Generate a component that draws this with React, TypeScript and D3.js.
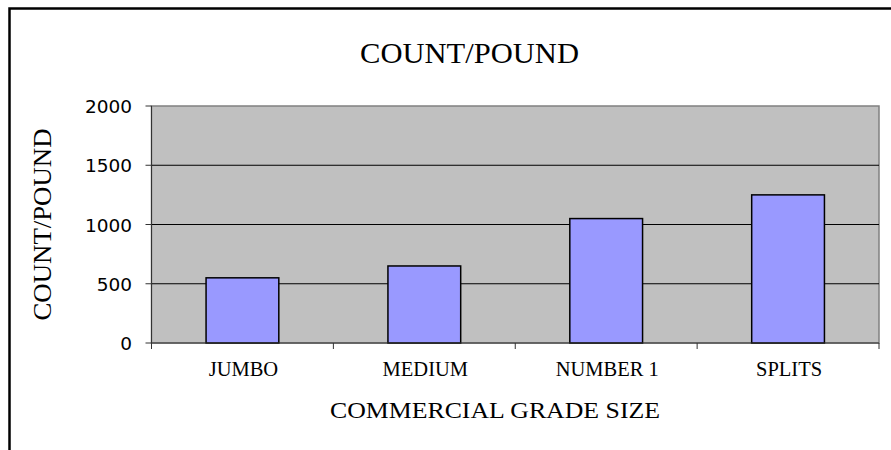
import React from "react";
import * as d3 from "d3";

const categories = ["JUMBO", "MEDIUM", "NUMBER 1", "SPLITS"];
const values = [550, 650, 1050, 1250];
const yTicks = [0, 500, 1000, 1500, 2000];
const chartTitle = "COUNT/POUND";
const yTitle = "COUNT/POUND";
const xTitle = "COMMERCIAL GRADE SIZE";

const W = 891;
const H = 450;
const plot = { left: 151.5, top: 106, right: 879, bottom: 343 };
const FONT = "'Liberation Serif', 'DejaVu Serif', serif";
const NUMFONT = "'DejaVu Sans', sans-serif";

export default function App() {
  const x = d3
    .scaleBand<string>()
    .domain(categories)
    .range([plot.left, plot.right])
    .paddingInner(0.6)
    .paddingOuter(0.3);
  const band = d3.scaleBand<string>().domain(categories).range([plot.left, plot.right]);
  const y = d3.scaleLinear().domain([0, 2000]).range([plot.bottom, plot.top]);
  const boundaries = categories.map((c) => band(c)!).concat([plot.right]);

  return (
    <svg
      width={W}
      height={H}
      style={{ position: "absolute", left: 0, top: 0, background: "#fff" }}
    >
      <rect x={9.5} y={8.5} width={1000} height={1000} fill="#fff" stroke="#000" strokeWidth={2.5} />
      <text
        x={469.5}
        y={63}
        textAnchor="middle"
        fontFamily={FONT}
        fontSize={29}
        textLength={219}
        lengthAdjust="spacingAndGlyphs"
        fill="#000"
      >
        {chartTitle}
      </text>
      <rect
        x={plot.left}
        y={plot.top}
        width={plot.right - plot.left}
        height={plot.bottom - plot.top}
        fill="#C0C0C0"
        stroke="#808080"
        strokeWidth={1.5}
      />
      {yTicks.filter((t) => t > 0 && t < 2000).map((t) => (
        <line key={"g" + t} x1={plot.left} x2={plot.right} y1={y(t)} y2={y(t)} stroke="#000" strokeWidth={1} />
      ))}
      {categories.map((c, i) => (
        <rect
          key={c}
          x={x(c)!}
          y={y(values[i])}
          width={x.bandwidth()}
          height={y(0) - y(values[i])}
          fill="#9999FF"
          stroke="#000"
          strokeWidth={1.5}
        />
      ))}
      <line x1={plot.left} x2={plot.left} y1={plot.top} y2={plot.bottom} stroke="#333" strokeWidth={1} />
      <line x1={plot.left} x2={plot.right} y1={plot.bottom} y2={plot.bottom} stroke="#333" strokeWidth={1} />
      {yTicks.map((t) => (
        <g key={"t" + t}>
          <line x1={plot.left - 6} x2={plot.left} y1={y(t)} y2={y(t)} stroke="#333" strokeWidth={1} />
          <text x={132} y={y(t) + 7} textAnchor="end" fontFamily={NUMFONT} fontSize={18.5} fill="#000">
            {t}
          </text>
        </g>
      ))}
      {boundaries.map((b, i) => (
        <line key={"b" + i} x1={b} x2={b} y1={plot.bottom} y2={plot.bottom + 6} stroke="#333" strokeWidth={1} />
      ))}
      {categories.map((c) => (
        <text
          key={"l" + c}
          x={x(c)! + x.bandwidth() / 2 + 1}
          y={376}
          textAnchor="middle"
          fontFamily={FONT}
          fontSize={20.5}
          fill="#000"
        >
          {c}
        </text>
      ))}
      <text
        transform={`translate(51,224.5) rotate(-90)`}
        textAnchor="middle"
        fontFamily={FONT}
        fontSize={26}
        textLength={192}
        lengthAdjust="spacingAndGlyphs"
        fill="#000"
      >
        {yTitle}
      </text>
      <text
        x={495}
        y={418}
        textAnchor="middle"
        fontFamily={FONT}
        fontSize={24}
        textLength={330}
        lengthAdjust="spacingAndGlyphs"
        fill="#000"
      >
        {xTitle}
      </text>
    </svg>
  );
}
